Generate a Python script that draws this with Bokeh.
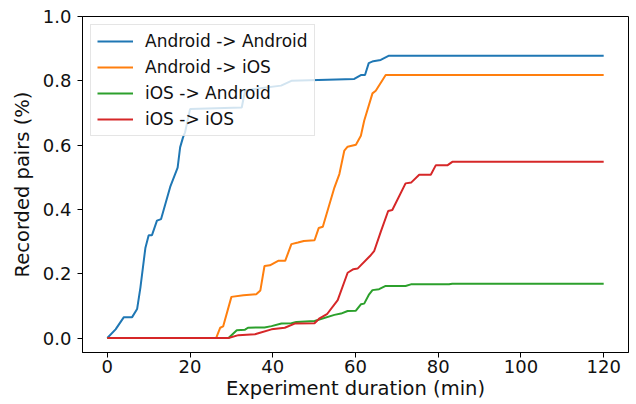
from bokeh.plotting import figure
from bokeh.models import Range1d, FixedTicker, Legend, LegendItem, CustomJSTickFormatter
from bokeh.embed import file_html
from bokeh.resources import INLINE

series_names = ["Android -> Android", "Android -> iOS", "iOS -> Android", "iOS -> iOS"]
colors = ["#1f77b4", "#ff7f0e", "#2ca02c", "#d62728"]

aa_t = [0, 2, 4, 6, 7.2, 8, 9.2, 10, 10.8, 12, 13, 15.2, 17, 17.6, 18.3, 18.8, 20, 32.5, 33.3, 36, 42, 44.5,
        59.7, 61.3, 62.3, 63.2, 64.3, 66.1, 68.1, 120]
aa_v = [0, 0.027, 0.065, 0.065, 0.09, 0.157, 0.28, 0.32, 0.32, 0.365, 0.37, 0.47, 0.53, 0.593, 0.624, 0.64, 0.712,
        0.717, 0.77, 0.775, 0.785, 0.80, 0.806, 0.818, 0.818, 0.855, 0.861, 0.865, 0.878, 0.878]

ai_t = [0, 26.3, 27.3, 28, 30, 32.9, 36, 37, 38, 39.3, 41.3, 43, 44.5, 46.1, 47.5, 50.1, 51.1, 52.1, 54.9,
        56.1, 57.3, 58.1, 60.1, 61.3, 62.1, 64.1, 64.9, 67.3, 120]
ai_v = [0, 0, 0.032, 0.036, 0.128, 0.133, 0.136, 0.148, 0.224, 0.226, 0.24, 0.24, 0.292, 0.297, 0.302, 0.304,
        0.342, 0.346, 0.468, 0.51, 0.583, 0.595, 0.601, 0.629, 0.676, 0.761, 0.769, 0.818, 0.818]

ia_t = [0, 29.3, 31.3, 33.3, 34, 38, 39.7, 42.1, 44.5, 45.7, 50.1, 54.9, 56.5, 58.1, 60.1, 61.3, 62.1, 63.3,
        64.1, 65.7, 67.3, 72.1, 73.4, 82.6, 83.4, 120]
ia_v = [0, 0, 0.024, 0.026, 0.032, 0.033, 0.037, 0.045, 0.046, 0.05, 0.053, 0.072, 0.076, 0.084, 0.085, 0.105,
        0.107, 0.136, 0.149, 0.152, 0.162, 0.162, 0.167, 0.167, 0.169, 0.169]

ii_t = [0, 29.3, 31.7, 35.7, 36.5, 39.7, 42.9, 45.3, 50.1, 51.2, 53.1, 55.7, 58.1, 59.5, 60.5, 63.5, 64.5, 66.1,
        67.9, 68.9, 72.1, 73.5, 75.4, 78.2, 79.4, 82.2, 83.4, 120]
ii_v = [0, 0, 0.009, 0.012, 0.015, 0.027, 0.032, 0.045, 0.046, 0.06, 0.074, 0.118, 0.203, 0.214, 0.216, 0.255,
        0.27, 0.33, 0.395, 0.398, 0.481, 0.484, 0.508, 0.508, 0.537, 0.537, 0.548, 0.548]

x_ticks = [0, 20, 40, 60, 80, 100, 120]
y_ticks = [0.0, 0.2, 0.4, 0.6, 0.8, 1.0]

FONT = "DejaVu Sans"

p = figure(width=636, height=404, output_backend="svg", toolbar_location=None,
           x_range=Range1d(-6, 126), y_range=Range1d(-0.045, 1.0),
           min_border_left=82, min_border_right=8, min_border_top=16, min_border_bottom=52)
p.grid.visible = False
p.outline_line_color = "black"
p.outline_line_width = 1
p.background_fill_color = "white"
p.border_fill_color = "white"

renderers = []
for t, v, c in zip([aa_t, ai_t, ia_t, ii_t], [aa_v, ai_v, ia_v, ii_v], colors):
    r = p.line(t, v, line_color=c, line_width=2)
    renderers.append(r)

for ax in (p.xaxis[0], p.yaxis[0]):
    ax.axis_line_color = "black"
    ax.major_tick_line_color = "black"
    ax.minor_tick_line_color = None
    ax.major_tick_out = 5
    ax.major_tick_in = 0
    ax.major_label_text_font = FONT
    ax.major_label_text_font_size = "18px"
    ax.major_label_text_color = "#111111"
    ax.axis_label_text_font = FONT
    ax.axis_label_text_font_size = "19.5px"
    ax.axis_label_text_font_style = "normal"
    ax.axis_label_text_color = "#111111"

p.xaxis.ticker = FixedTicker(ticks=x_ticks)
p.yaxis.ticker = FixedTicker(ticks=y_ticks)
p.yaxis.formatter = CustomJSTickFormatter(code="return tick.toFixed(1);")
p.xaxis.axis_label = "Experiment duration (min)"
p.yaxis.axis_label = "Recorded pairs (%)"
p.xaxis.major_label_standoff = 2
p.xaxis.axis_label_standoff = 1
p.yaxis.major_label_standoff = 6
p.yaxis.axis_label_standoff = 6

legend = Legend(items=[LegendItem(label=n, renderers=[r]) for n, r in zip(series_names, renderers)],
                location="top_left")
legend.margin = 8
legend.padding = 6
legend.spacing = 6
legend.glyph_width = 36
legend.glyph_height = 20
legend.label_height = 20
legend.label_standoff = 12
legend.label_text_font = FONT
legend.label_text_font_size = "17px"
legend.label_text_color = "#111111"
legend.border_line_color = "#cccccc"
legend.border_line_width = 1
legend.background_fill_color = "white"
legend.background_fill_alpha = 0.8
p.add_layout(legend)

open("out.html", "w").write(file_html(p, INLINE))
